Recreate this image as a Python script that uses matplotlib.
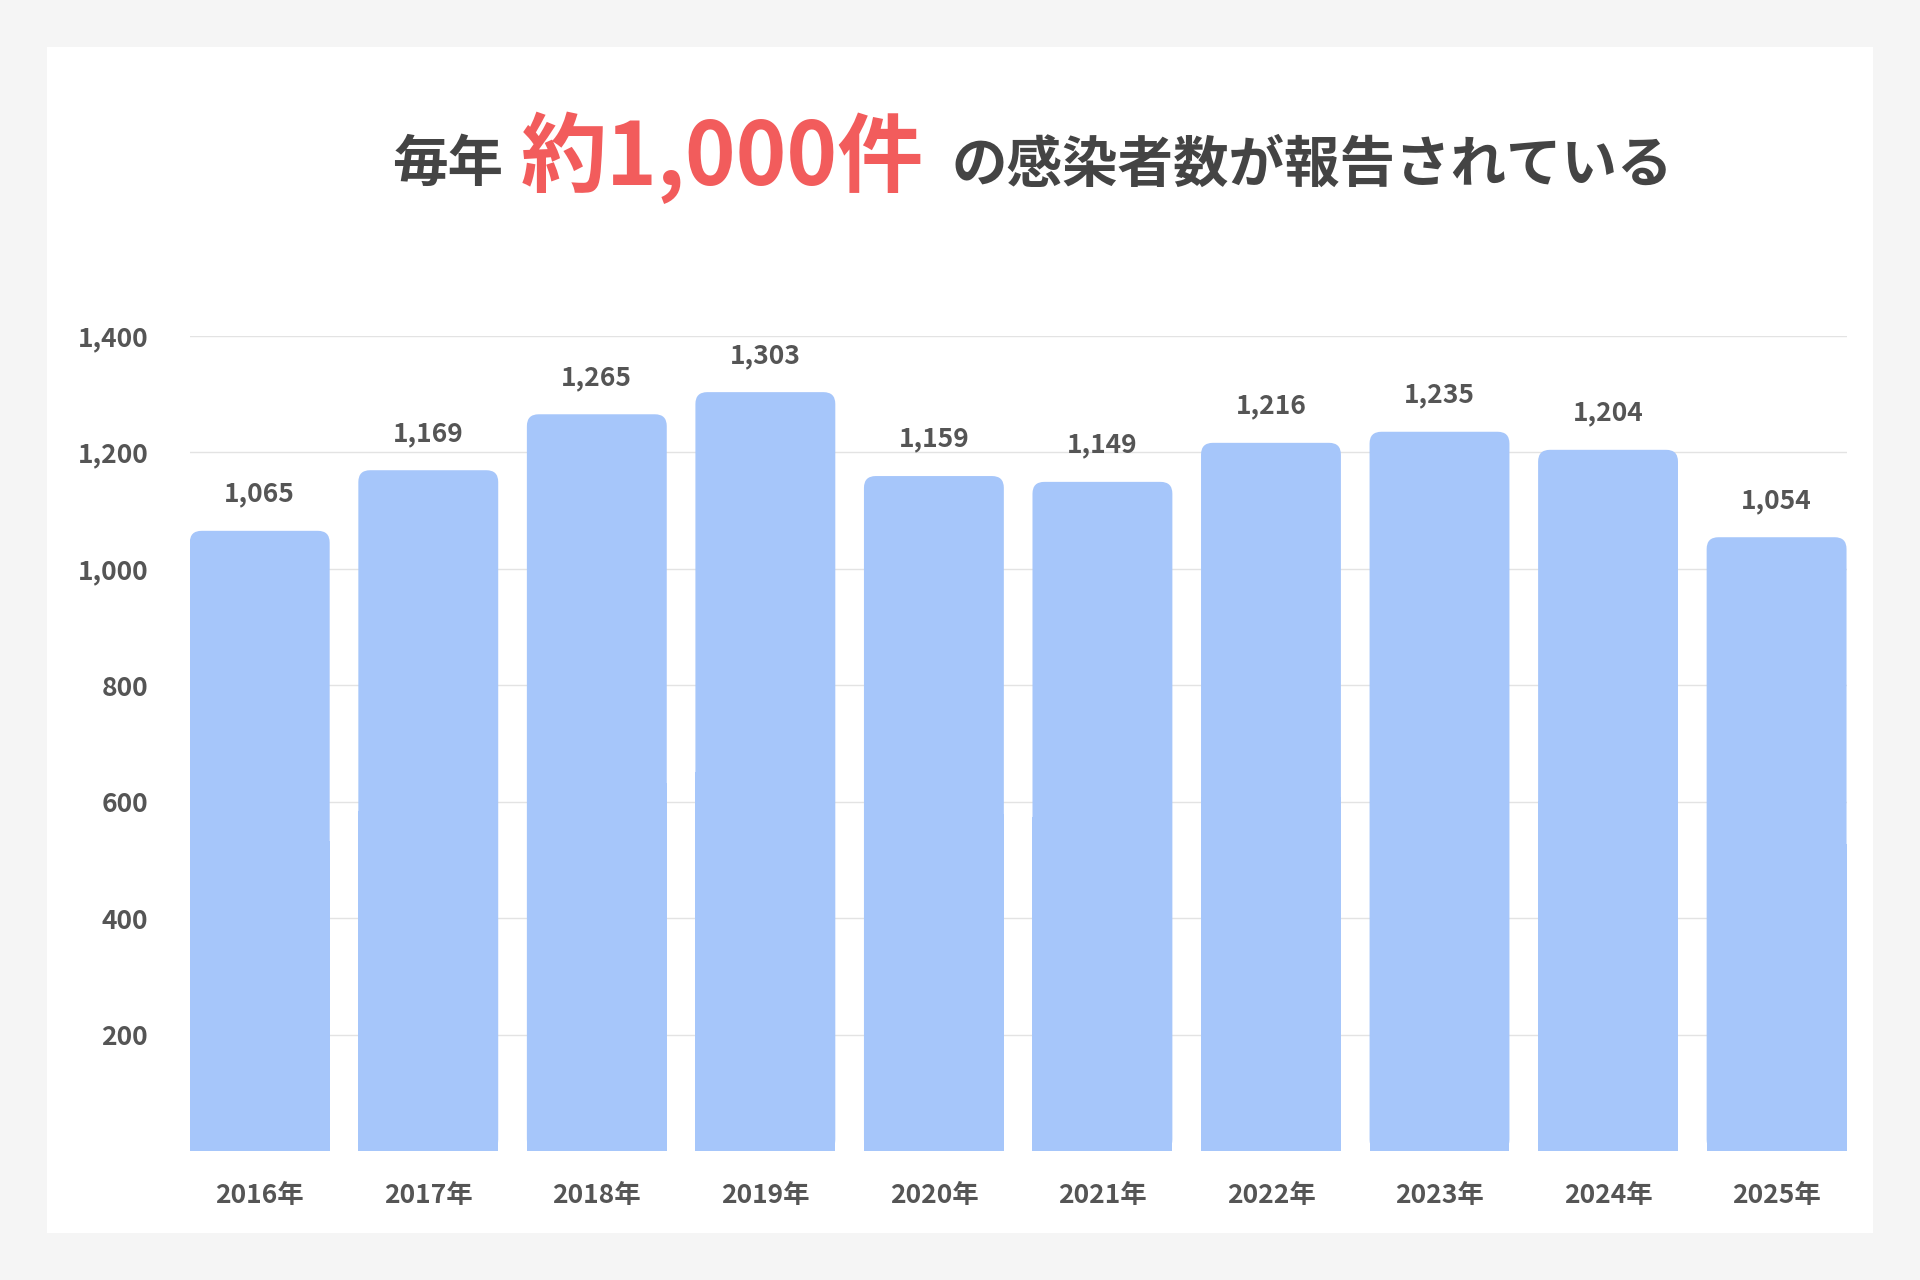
import matplotlib
matplotlib.use("Agg")
import matplotlib.pyplot as plt
from matplotlib.patches import FancyBboxPatch, Rectangle

plt.rcParams['font.family'] = ['Noto Sans CJK JP', 'DejaVu Sans']

years = ["2016年","2017年","2018年","2019年","2020年","2021年","2022年","2023年","2024年","2025年"]
values = [1065, 1169, 1265, 1303, 1159, 1149, 1216, 1235, 1204, 1054]
yticks = [200, 400, 600, 800, 1000, 1200, 1400]

W, H = 1568, 1045
fig = plt.figure(figsize=(19.2, 12.8), dpi=100)
fig.patch.set_facecolor("#f5f5f5")
fig.patches.append(Rectangle((38/W, 1-1007/H), (1530-38)/W, (1007-38)/H,
                             transform=fig.transFigure, facecolor="white", edgecolor="none", zorder=-5))

ax = fig.add_axes([155/W, 1-940/H, (1508-155)/W, (940-274)/H])
ax.set_zorder(2)
ax.set_facecolor("none")
ax.set_xlim(-0.415, 9.415)
ax.set_ylim(0, 1400)
bw = 0.83
aspect = (1400/666)/(9.83/1353)
col = "#a6c6fa"
for i, v in enumerate(values):
    ax.add_patch(FancyBboxPatch((i-bw/2, 0), bw, v, boxstyle="round,pad=0,rounding_size=0.07",
                                mutation_aspect=aspect, facecolor=col, edgecolor="none", zorder=2))
    ax.add_patch(Rectangle((i-bw/2, 0), bw, v*0.5, facecolor=col, edgecolor="none", zorder=2))
    ax.text(i, v+40, f"{v:,}", ha="center", va="bottom", fontsize=19, fontweight="bold", color="#555555")
for y in yticks:
    ax.axhline(y, color="#e3e3e3", lw=1, zorder=1)
ax.set_yticks(yticks)
ax.set_yticklabels([f"{y:,}" for y in yticks])
ax.set_xticks(range(len(years)))
ax.set_xticklabels(years)
for lab in ax.get_xticklabels() + ax.get_yticklabels():
    lab.set_fontweight("bold"); lab.set_color("#555555"); lab.set_fontsize(19)
ax.tick_params(length=0, pad=22)
ax.tick_params(axis='y', pad=30)
for s in ax.spines.values():
    s.set_visible(False)

ty = 1-135/H
fig.text(320/W, ty, "毎年", ha="left", va="center", fontsize=40, fontweight="bold", color="#444444")
fig.text(425/W, ty+0.006, "約1,000件", ha="left", va="center", fontsize=62, fontweight="bold", color="#f25c5c")
fig.text(777/W, ty, "の感染者数が報告されている", ha="left", va="center", fontsize=40, fontweight="bold", color="#444444")

fig.savefig("out.png", dpi=100, facecolor=fig.get_facecolor())
